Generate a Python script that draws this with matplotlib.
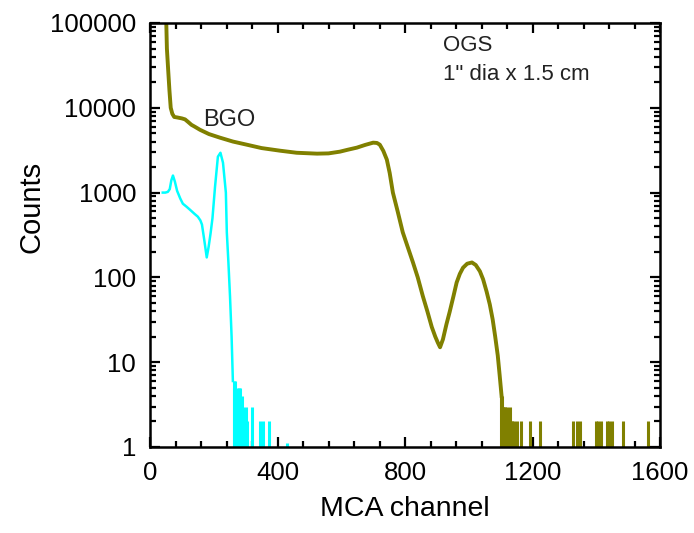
import matplotlib
matplotlib.use("Agg")
import matplotlib.pyplot as plt
from matplotlib.ticker import MultipleLocator, LogLocator, NullFormatter, FixedLocator

plt.rcParams['font.family'] = ['Liberation Sans', 'DejaVu Sans']

# BGO spectrum (olive)
bgo_ch = [50, 53, 57, 61, 65, 70, 76, 85, 100, 110, 119, 130, 140, 157, 185, 219, 260, 304, 350,
          408, 460, 524, 560, 596, 620, 649, 675, 700, 712, 721, 732, 743, 752, 762, 777,
          793, 810, 825, 840, 856, 870, 884, 895, 903, 910, 919, 930, 940, 952, 962, 972,
          982, 995, 1010, 1022, 1035, 1045, 1056, 1066, 1075, 1083, 1091, 1097, 1103]
bgo_cnt = [150000, 50000, 28000, 16000, 10000, 8500, 7800, 7700, 7500, 7300, 6840, 6300, 6000, 5500,
           4900, 4450, 4000, 3670, 3350, 3120, 2950, 2880, 2900, 3040, 3200, 3390, 3650,
           3880, 3850, 3670, 3100, 2450, 1700, 1000, 600, 340, 220, 150, 100, 60, 40, 26,
           20, 17, 15, 18.6, 28, 39, 60, 87, 110, 130, 145, 150, 140, 118, 95, 68, 48, 32,
           20, 12, 7, 4]
bgo_tail_ch = [1100, 1103, 1105, 1108, 1110, 1113, 1115, 1118, 1121, 1124, 1127, 1130, 1133,
               1137, 1141, 1151, 1164, 1192, 1224, 1327, 1339, 1349, 1399, 1405, 1415, 1434,
               1440, 1449, 1484, 1562]
bgo_tail_cnt = [4, 3, 4, 3, 3, 2, 3, 2, 3, 2, 2, 3, 2, 2, 2, 2, 2, 2, 2, 2, 2, 2, 2, 2, 2, 2,
                2, 2, 2, 2]

# OGS spectrum (cyan)
ogs_ch = [40, 48, 56, 62, 67, 72, 78, 85, 95, 103, 115, 125, 140, 150, 158, 163, 170, 178,
          184, 190, 196, 204, 213, 221, 229, 238, 241, 246, 251, 256, 260]
ogs_cnt = [1000, 1000, 1020, 1100, 1400, 1590, 1350, 1050, 850, 740, 680, 630, 560, 520, 470,
           420, 280, 172, 230, 330, 500, 1170, 2650, 2950, 2250, 1000, 340, 150, 60, 20, 6]
ogs_tail_ch = [262, 265, 268, 271, 274, 277, 280, 283, 286, 289, 292, 296, 300, 304, 319, 345,
               354, 373, 430]
ogs_tail_cnt = [6, 5, 6, 4, 5, 3, 5, 5, 3, 4, 3, 2, 3, 2, 3, 2, 2, 2, 1.1]

x_major = [0, 400, 800, 1200, 1600]
y_major = [1, 10, 100, 1000, 10000, 100000]
olive = '#808000'
cyan = '#00FFFF'

fig = plt.figure(figsize=(6.94, 5.33), dpi=100)
ax = fig.add_axes([150/694, 1-447/533, 510/694, 424/533])

ax.plot(ogs_ch, ogs_cnt, color=cyan, lw=1.8)
ax.vlines(ogs_tail_ch, 0.5, ogs_tail_cnt, color=cyan, lw=2.2)
ax.plot(bgo_ch, bgo_cnt, color=olive, lw=2.8)
ax.vlines(bgo_tail_ch, 0.5, bgo_tail_cnt, color=olive, lw=2.2)

ax.set_yscale('log')
ax.set_xlim(0, 1600)
ax.set_ylim(1, 100000)
ax.xaxis.set_major_locator(FixedLocator(x_major))
ax.xaxis.set_minor_locator(MultipleLocator(80))
ax.yaxis.set_major_locator(FixedLocator(y_major))
ax.yaxis.set_minor_locator(LogLocator(base=10, subs=range(2, 10)))
ax.yaxis.set_minor_formatter(NullFormatter())
ax.set_xticklabels([str(v) for v in x_major])
ax.set_yticklabels([str(v) for v in y_major])

ax.tick_params(which='both', direction='in', top=True, right=True, width=1.6,
               labelsize=18.5, pad=10)
ax.tick_params(which='major', length=7)
ax.tick_params(which='minor', length=4)
for s in ax.spines.values():
    s.set_linewidth(1.8)

ax.set_xlabel('MCA channel', fontsize=20.5, labelpad=8)
fig.text(32/694, 1-207/533, 'Counts', rotation=90, fontsize=21, ha='center', va='center')

ax.text(166, 7200, 'BGO', fontsize=17, ha='left', va='center', color='#222222')
ax.text(919, 54000, 'OGS', fontsize=16, ha='left', va='center', color='#222222')
ax.text(919, 24400, '1" dia x 1.5 cm', fontsize=16, ha='left', va='center', color='#222222')

fig.savefig('out.png', dpi=100)
